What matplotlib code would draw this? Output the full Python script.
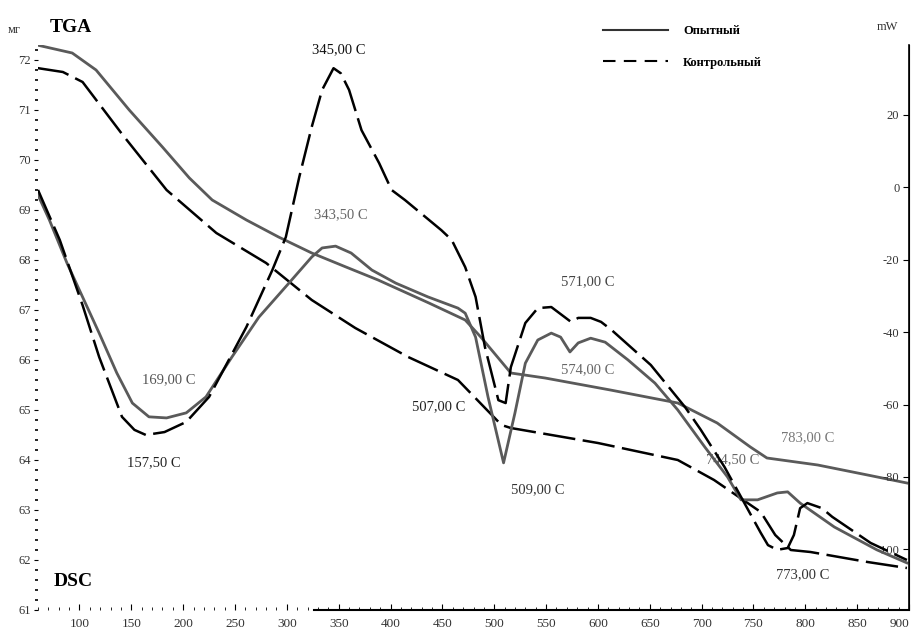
import numpy as np
import matplotlib
matplotlib.use('Agg')
import matplotlib.pyplot as plt
from matplotlib.lines import Line2D

plt.rcParams['font.family'] = ['Liberation Serif', 'DejaVu Serif']
plt.rcParams['axes.unicode_minus'] = False

## TGA curves, mass in mg (left axis)
tga_exp_T = [59, 93, 116, 148, 180, 206, 228, 261, 292, 324, 357, 388, 437, 472, 487,
             516, 549, 612, 677, 715, 747, 763, 812, 860, 898]
tga_exp_mg = [72.30, 72.14, 71.80, 71.00, 70.26, 69.64, 69.20, 68.80, 68.46, 68.14, 67.86,
              67.60, 67.14, 66.80, 66.46, 65.74, 65.64, 65.40, 65.14, 64.74, 64.26, 64.04,
              63.90, 63.70, 63.54]

tga_ctrl_T = [59, 84, 103, 141, 184, 232, 280, 324, 366, 417, 465, 507, 516, 600, 677,
              712, 757, 771, 786, 805, 860, 898]
tga_ctrl_mg = [71.84, 71.76, 71.56, 70.52, 69.40, 68.54, 67.94, 67.20, 66.64, 66.06, 65.60,
               64.70, 64.64, 64.34, 64.00, 63.60, 62.96, 62.50, 62.20, 62.16, 61.96, 61.84]

## DSC curves, heat flow in mW (right axis)
dsc_exp_T = [60, 71, 88, 119, 136, 151, 167, 184, 203, 222, 247, 273, 302, 324, 334, 347,
             362, 382, 405, 436, 465, 472, 482, 494, 509, 520, 530, 542, 555, 564, 573, 581,
             593, 607, 629, 655, 677, 703, 725, 738, 754, 773, 783, 795, 828, 869, 898]
dsc_exp_mW = [-2.2, -9.1, -21.0, -40.3, -51.3, -59.6, -63.4, -63.7, -62.3, -57.9, -46.9,
              -35.9, -26.5, -19.3, -16.8, -16.3, -18.2, -22.9, -26.5, -30.3, -33.4, -34.8,
              -41.4, -57.9, -76.1, -62.3, -48.6, -42.2, -40.3, -41.4, -45.5, -43.0, -41.7,
              -42.8, -47.7, -54.1, -61.5, -71.7, -80.0, -86.3, -86.3, -84.4, -84.1, -87.2,
              -93.8, -100.1, -103.7]

dsc_ctrl_T = [60, 81, 103, 119, 141, 153, 164, 182, 203, 225, 261, 286, 299, 312, 324, 334,
              345, 352, 360, 372, 389, 401, 414, 449, 459, 472, 482, 491, 504, 511, 516, 530,
              542, 555, 568, 574, 581, 593, 603, 613, 651, 684, 699, 722, 738, 757, 764, 773,
              783, 789, 795, 802, 816, 826, 863, 898]
dsc_ctrl_mW = [-0.8, -14.6, -32.6, -46.9, -63.4, -67.0, -68.4, -67.6, -64.8, -57.9, -38.6,
               -22.9, -13.8, 2.8, 16.6, 26.8, 32.8, 31.4, 26.8, 15.7, 6.6, -0.8, -3.6, -11.9,
               -14.6, -22.1, -30.3, -44.1, -58.8, -59.6, -49.7, -37.5, -33.4, -33.1, -35.9,
               -37.2, -36.1, -36.1, -37.2, -39.4, -49.1, -60.7, -66.9, -77.2, -85.5, -95.4,
               -98.8, -100.1, -99.6, -96.0, -88.6, -87.2, -88.6, -91.0, -98.2, -102.9]

## Peak / inflection labels
peak_labels = ['345,00 C', '343,50 C', '169,00 C', '157,50 C', '571,00 C', '574,00 C',
               '507,00 C', '509,00 C', '783,00 C', '744,50 C', '773,00 C']
label_pos = [(350, 72.2), (352, 68.9), (186, 65.6), (172, 63.95), (590, 67.56), (590, 65.8),
             (446, 65.06), (542, 63.4), (802, 64.44), (730, 64.0), (797, 61.7)]
label_col = ['#111111', '#666666', '#555555', '#222222', '#444444', '#666666',
             '#222222', '#333333', '#777777', '#666666', '#333333']

x_ticks = np.arange(100, 901, 50)
mg_ticks = np.arange(61, 73, 1)
mw_ticks = np.arange(-100, 21, 20)

exp_color = '#5a5a5a'
ctrl_color = '#000000'
dash = (0, (13, 3))

fig = plt.figure(figsize=(9.11, 6.37), dpi=100)
ax = fig.add_axes([38/911, 27/637, 871/911, 565/637])
ax2 = ax.twinx()

ax.plot(tga_exp_T, tga_exp_mg, color=exp_color, lw=2.0, solid_joinstyle='round')
ax.plot(tga_ctrl_T, tga_ctrl_mg, color=ctrl_color, lw=1.8, linestyle=dash)
ax2.plot(dsc_exp_T, dsc_exp_mW, color=exp_color, lw=2.0, solid_joinstyle='round')
ax2.plot(dsc_ctrl_T, dsc_ctrl_mW, color=ctrl_color, lw=1.8, linestyle=dash)

ax.set_xlim(60, 899)
ax.set_ylim(61, 72.3)
ax2.set_ylim(-116.7, 39.2)

for txt, (tx, ty), c in zip(peak_labels, label_pos, label_col):
    ax.text(tx, ty, txt, color=c, fontsize=10.5, ha='center', va='center')

## axes styling
ax.set_xticks(x_ticks)
ax.set_xticklabels([str(v) for v in x_ticks])
ax.set_xticks(np.arange(60, 900, 10), minor=True)
ax.set_yticks(mg_ticks)
ax.set_yticks(np.arange(61, 72.3, 0.2), minor=True)
ax.tick_params(axis='x', which='major', direction='in', length=4, labelsize=9.5,
               labelcolor='#333333', pad=6)
ax.tick_params(axis='x', which='minor', direction='in', length=2)
ax.tick_params(axis='y', which='major', direction='out', length=3, labelsize=9,
               labelcolor='#333333', pad=2)
ax.tick_params(axis='y', which='minor', direction='out', length=2, width=1.2)
# last x label is cut by the image edge in the original; keep it inside
ax.get_xticklabels()[-1].set_horizontalalignment('right')

ax2.set_yticks(mw_ticks)
ax2.tick_params(axis='y', direction='in', length=4, labelsize=9, labelcolor='#333333', pad=-7)
for lab in ax2.get_yticklabels():
    lab.set_horizontalalignment('right')

ax.spines['top'].set_visible(False)
ax2.spines['top'].set_visible(False)
ax.spines['left'].set_visible(False)
ax2.spines['left'].set_visible(False)
ax.spines['bottom'].set_bounds(326, 899)
ax.spines['bottom'].set_linewidth(1.5)
ax2.spines['bottom'].set_visible(False)
ax2.spines['right'].set_linewidth(1.2)

## titles and units
fig.text(50/911, 1 - 28/637, 'TGA', fontsize=14, fontweight='bold', va='center', ha='left')
fig.text(8/911, 1 - 30/637, 'мг', fontsize=9, va='center', ha='left', color='#333333')
fig.text(898/911, 1 - 27/637, 'mW', fontsize=9, va='center', ha='right', color='#333333')
fig.text(54/911, 1 - 582/637, 'DSC', fontsize=14, fontweight='bold', va='center', ha='left')

handles = [Line2D([], [], color='#333333', lw=1.5),
           Line2D([], [], color='black', lw=1.5, linestyle=(0, (6, 4)))]
fig.legend(handles, ['Опытный', 'Контрольный'], loc='upper left',
           bbox_to_anchor=(592/911, 1 - 14/637), frameon=False, handlelength=5.2,
           handletextpad=1.2, labelspacing=1.55, prop={'size': 9, 'weight': 'bold'})

fig.savefig('out.png', dpi=100)
